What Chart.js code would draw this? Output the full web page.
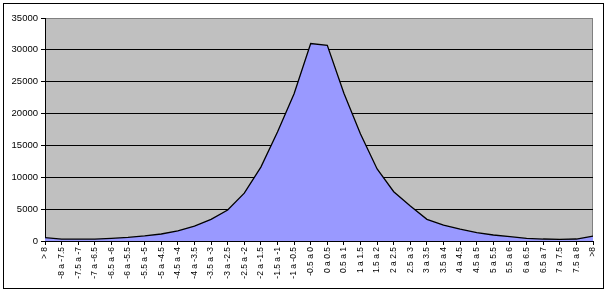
<!DOCTYPE html>
<html>
<head>
<meta charset="utf-8">
<script src="https://cdn.jsdelivr.net/npm/chart.js@4"></script>
<style>
  body { margin: 0; background: #fff; }
  canvas { display: block; }
</style>
</head>
<body>
<canvas id="chart" width="610" height="293"></canvas>
<script>
const categories = [
  '> 8', '-8 a -7.5', '-7.5 a -7', '-7 a -6.5', '-6.5 a -6', '-6 a -5.5', '-5.5 a -5',
  '-5 a -4.5', '-4.5 a -4', '-4 a -3.5', '-3.5 a -3', '-3 a -2.5', '-2.5 a -2', '-2 a -1.5',
  '-1.5 a -1', '-1 a -0.5', '-0.5 a 0', '0 a 0.5', '0.5 a 1', '1 a 1.5', '1.5 a 2',
  '2 a 2.5', '2.5 a 3', '3 a 3.5', '3.5 a 4', '4 a 4.5', '4.5 a 5', '5 a 5.5', '5.5 a 6',
  '6 a 6.5', '6.5 a 7', '7 a 7.5', '7.5 a 8', '>8'
]
const counts = [
  520, 300, 300, 300, 420, 560, 800, 1100, 1600, 2350, 3400, 4860, 7500, 11600,
  17100, 23100, 31000, 30700, 23200, 16800, 11300, 7740, 5500, 3400, 2500, 1850,
  1300, 940, 680, 420, 310, 260, 310, 780
]
const yMin = 0
const yMax = 35000
const yStep = 5000

// gray plot background + outer frame, excel style
const excelFrame = {
  id: 'excelFrame',
  beforeDraw(chart) {
    const { ctx, chartArea: a } = chart
    ctx.save()
    ctx.strokeStyle = '#000'
    ctx.lineWidth = 1
    ctx.strokeRect(3.5, 3.5, 600, 285)
    ctx.fillStyle = '#c0c0c0'
    ctx.fillRect(a.left, a.top, a.right - a.left, a.bottom - a.top)
    ctx.strokeStyle = '#808080'
    ctx.strokeRect(a.left + 0.5, a.top + 0.5, a.right - a.left - 1, a.bottom - a.top)
    ctx.restore()
  }
}

const config = {
  type: 'line',
  data: {
    labels: categories,
    datasets: [{
      data: counts,
      backgroundColor: '#9999ff',
      borderColor: '#000',
      borderWidth: 1.3,
      fill: 'origin',
      tension: 0,
      pointRadius: 0,
    }]
  },
  options: {
    responsive: false,
    animation: false,
    layout: { padding: { left: 0, top: 18, right: 17, bottom: 0 } },
    scales: {
      x: {
        offset: false,
        afterFit: (scale) => { scale.height = 52 },
        grid: {
          drawOnChartArea: false,
          offset: false,
          tickLength: 4,
          tickColor: '#000',
        },
        border: { color: '#000' },
        ticks: {
          autoSkip: false,
          minRotation: 90,
          maxRotation: 90,
          padding: 2,
          color: '#000',
          font: { family: 'Liberation Sans, Arial', size: 8.5 },
        },
      },
      y: {
        min: yMin,
        max: yMax,
        afterFit: (scale) => { scale.width = 45 },
        grid: {
          color: (c) => c.tick.value === yMax ? '#808080' : '#000',
          tickLength: 4,
          tickColor: '#000',
        },
        border: { color: '#000' },
        ticks: {
          stepSize: yStep,
          padding: 3,
          color: '#000',
          font: { family: 'Liberation Sans, Arial', size: 9.5 },
          callback: (v) => v,
        },
      },
    },
    plugins: {
      legend: { display: false },
      tooltip: { enabled: false },
    },
  },
  plugins: [excelFrame],
}

new Chart(document.getElementById('chart'), config)
</script>
</body>
</html>
